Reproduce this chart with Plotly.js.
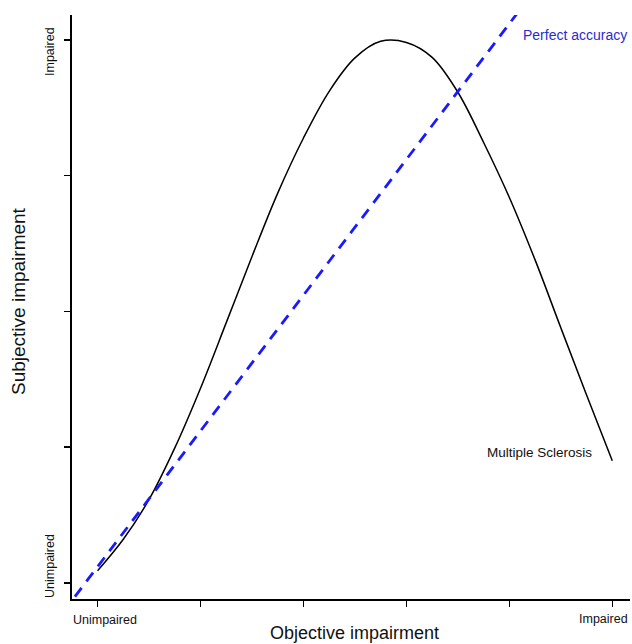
<!DOCTYPE html>
<html>
<head>
<meta charset="utf-8">
<script src="https://cdn.plot.ly/plotly-3.0.1.min.js"></script>
<style>html,body{margin:0;padding:0;background:#fff;}#chart{width:632px;height:644px;}</style>
</head>
<body>
<div id="chart"></div>
<script>
// Multiple Sclerosis curve (objective vs subjective impairment)
var msX = [0.00, 0.25, 0.50, 0.75, 1.00, 1.25, 1.50, 1.75, 2.00, 2.25, 2.50, 2.75, 3.00, 3.25, 3.50, 3.75, 4.00, 4.25, 4.50, 4.75, 5.00];
var msY = [0.09, 0.322, 0.615, 0.995, 1.435, 1.918, 2.405, 2.872, 3.278, 3.622, 3.868, 3.990, 3.982, 3.872, 3.615, 3.245, 2.840, 2.380, 1.880, 1.385, 0.900];
// Perfect accuracy reference line
var perfX = [-0.22, 4.10];
var perfY = [-0.10, 4.22];
// Tick labels
var xTickVals = [0, 1, 2, 3, 4, 5];
var yTickVals = [0, 1, 2, 3, 4];
var xLabels = ["Unimpaired", "Impaired"];
var yLabels = ["Unimpaired", "Impaired"];
var seriesNames = ["Multiple Sclerosis", "Perfect accuracy"];

var font = "Liberation Sans, Arial, sans-serif";

var traces = [
  {x: msX, y: msY, type: "scatter", mode: "lines", name: seriesNames[0],
   line: {color: "#000000", width: 1.5, shape: "spline", smoothing: 1}},
  {x: perfX, y: perfY, type: "scatter", mode: "lines", name: seriesNames[1],
   line: {color: "#1a1aff", width: 2.8, dash: "11px,8px"}}
];

var layout = {
  width: 632, height: 644,
  margin: {l: 72, r: 2, t: 15, b: 45},
  paper_bgcolor: "#ffffff", plot_bgcolor: "#ffffff",
  showlegend: false,
  font: {family: font, color: "#111"},
  xaxis: {
    range: [-0.2485, 5.172], tickvals: xTickVals, ticktext: ["", "", "", "", "", ""],
    showgrid: false, zeroline: false, showline: true, linecolor: "#000", linewidth: 2,
    ticks: "outside", ticklen: 6, tickwidth: 1.5, tickcolor: "#000", fixedrange: true
  },
  yaxis: {
    range: [-0.118, 4.184], tickvals: yTickVals, ticktext: ["", "", "", "", ""],
    showgrid: false, zeroline: false, showline: true, linecolor: "#000", linewidth: 2,
    ticks: "outside", ticklen: 6, tickwidth: 1.5, tickcolor: "#000", fixedrange: true
  },
  annotations: [
    {text: xLabels[0], x: xTickVals[0], xref: "x", y: 0, yref: "paper", xshift: 7, yshift: -21,
     showarrow: false, xanchor: "center", yanchor: "middle", font: {size: 12.5, color: "#111"}},
    {text: xLabels[1], x: xTickVals[5], xref: "x", y: 0, yref: "paper", xshift: -9, yshift: -20,
     showarrow: false, xanchor: "center", yanchor: "middle", font: {size: 12.5, color: "#111"}},
    {text: yLabels[0], x: -0.0394, xref: "paper", y: yTickVals[0], yref: "y", yshift: 17, textangle: -90,
     showarrow: false, xanchor: "center", yanchor: "middle", font: {size: 12.5, color: "#111"}},
    {text: yLabels[1], x: -0.0394, xref: "paper", y: yTickVals[4], yref: "y", yshift: -12, textangle: -90,
     showarrow: false, xanchor: "center", yanchor: "middle", font: {size: 12.5, color: "#111"}},
    {text: "Objective impairment", x: 0.507, xref: "paper", y: 0, yref: "paper", yshift: -34,
     showarrow: false, xanchor: "center", yanchor: "middle", font: {size: 18, color: "#111"}},
    {text: "Subjective impairment", x: -0.097, xref: "paper", y: 0.51, yref: "paper", textangle: -90,
     showarrow: false, xanchor: "center", yanchor: "middle", font: {size: 19, color: "#111"}},
    {text: seriesNames[1], x: 4.638, xref: "x", y: 4.037, yref: "y",
     showarrow: false, xanchor: "center", yanchor: "middle", font: {size: 14, color: "#2b2bd0"}},
    {text: seriesNames[0], x: 4.295, xref: "x", y: 0.963, yref: "y",
     showarrow: false, xanchor: "center", yanchor: "middle", font: {size: 13.5, color: "#111"}}
  ]
};

Plotly.newPlot("chart", traces, layout, {displayModeBar: false, staticPlot: true});
</script>
</body>
</html>
